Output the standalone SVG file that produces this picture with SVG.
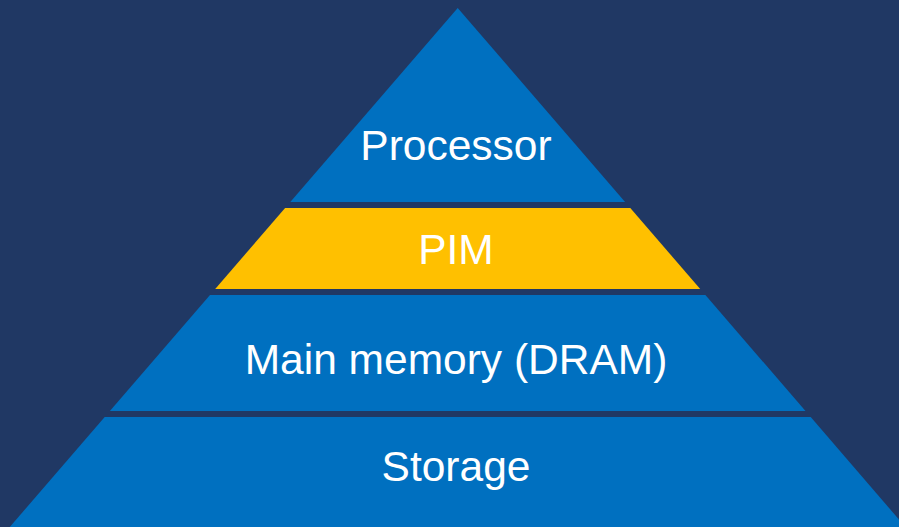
<svg xmlns="http://www.w3.org/2000/svg" width="899" height="527" viewBox="0 0 899 527">
  <style>
    .tier { fill: #0070C0; }
    .pim { fill: #FFC000; }
    .label { font-family: "Liberation Sans", Arial, sans-serif; font-size: 42.5px; fill: #FFFFFF; text-anchor: middle; }
  </style>
  <rect x="0" y="0" width="899" height="527" fill="#203864"/>
  <g id="processor">
    <polygon class="tier" points="457.7,8 625.1,202 290.3,202"/>
    <text class="label" x="456" y="160">Processor</text>
  </g>
  <g id="pim">
    <polygon class="pim" points="285.1,208 630.3,208 700.2,289 215.2,289"/>
    <text class="label" x="456" y="264">PIM</text>
  </g>
  <g id="main-memory">
    <polygon class="tier" points="210,295 705.4,295 805.5,411 109.9,411"/>
    <text class="label" x="456" y="374">Main memory (DRAM)</text>
  </g>
  <g id="storage">
    <polygon class="tier" points="104.7,417 810.7,417 908,530 7.2,530"/>
    <text class="label" x="456" y="481">Storage</text>
  </g>
</svg>
